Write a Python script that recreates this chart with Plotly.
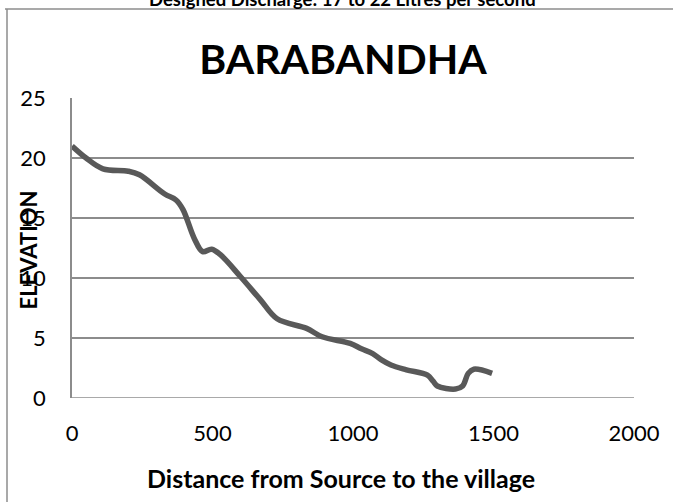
import plotly.graph_objects as go

# Data
distance = [0, 50, 110, 200, 240, 330, 370, 395, 435, 465, 497, 530, 600, 670, 730,
            835, 890, 990, 1030, 1070, 1100, 1135, 1190, 1265, 1285, 1300, 1365,
            1390, 1410, 1430, 1495]
elevation = [21.0, 20.0, 19.1, 18.9, 18.6, 17.0, 16.5, 15.7, 13.3, 12.2, 12.4, 11.9,
             10.1, 8.2, 6.6, 5.8, 5.1, 4.55, 4.1, 3.7, 3.2, 2.75, 2.35, 1.9, 1.4, 1.0,
             0.75, 1.0, 2.05, 2.4, 2.05]
x_ticks = [0, 500, 1000, 1500, 2000]
y_ticks = [0, 5, 10, 15, 20, 25]

FONT = "Lato"
GRID = "#8c8c8c"

fig = go.Figure()
fig.add_trace(go.Scatter(
    x=distance, y=elevation, mode="lines",
    line=dict(color="#595959", width=5.5, shape="spline", smoothing=1.0),
    showlegend=False, hoverinfo="skip",
))

W, H = 673, 502
L, R, T, B = 72, 39, 98, 104
pw, ph = W - L - R, H - T - B

def fx(px):
    return (px - L) / pw

def fy(py):
    return (H - B - py) / ph

fig.update_layout(
    width=W, height=H,
    margin=dict(l=L, r=R, t=T, b=B),
    paper_bgcolor="white", plot_bgcolor="white",
    font=dict(family=FONT, color="black"),
    title=dict(text="<b>BARABANDHA</b>", x=343 / W, xanchor="center",
               y=1 - 60 / H, yanchor="middle", yref="container",
               font=dict(size=41, family=FONT, color="black")),
    xaxis=dict(range=[0, 2000], tickvals=x_ticks, showgrid=False, zeroline=False,
               showline=False, ticks="", tickfont=dict(size=22, family=FONT),
               ticklabelstandoff=20, fixedrange=True),
    yaxis=dict(range=[0, 25], tickvals=y_ticks, showgrid=True, gridcolor=GRID,
               gridwidth=1.5, zeroline=False, showline=True, linecolor=GRID,
               linewidth=1.5, ticks="", tickfont=dict(size=22, family=FONT),
               ticklabelstandoff=20, fixedrange=True),
)

# Bottom axis line (at y=0)
fig.add_shape(type="line", xref="paper", yref="y", x0=0, x1=1, y0=0, y1=0,
              line=dict(color=GRID, width=1.5))

# Outer frame (partially visible)
fig.add_shape(type="line", xref="paper", yref="paper", x0=fx(5), x1=fx(680),
              y0=fy(9), y1=fy(9), line=dict(color=GRID, width=1.5))
fig.add_shape(type="line", xref="paper", yref="paper", x0=fx(7), x1=fx(7),
              y0=fy(9), y1=fy(510), line=dict(color=GRID, width=1.5))

# Axis titles
fig.add_annotation(text="<b>Distance from Source to the village</b>", xref="paper",
                   yref="paper", x=fx(341), y=fy(478), showarrow=False,
                   xanchor="center", yanchor="middle",
                   font=dict(size=25, family=FONT, color="black"))
fig.add_annotation(text="<b>ELEVATION</b>", xref="paper", yref="paper",
                   x=fx(28.5), y=fy(250), showarrow=False, textangle=-90,
                   xanchor="center", yanchor="middle",
                   font=dict(size=22, family=FONT, color="black"))
# Cut-off heading at top (as in the reference, only its lower part is visible)
fig.add_annotation(text="<b>Designed Discharge: 17 to 22 Litres per second</b>",
                   xref="paper", yref="paper", x=fx(342), y=fy(-1), showarrow=False,
                   xanchor="center", yanchor="middle",
                   font=dict(size=18.5, family=FONT, color="black"))

fig.write_html("out.html", config={"displayModeBar": False},
               post_script="document.body.style.margin='0';")
